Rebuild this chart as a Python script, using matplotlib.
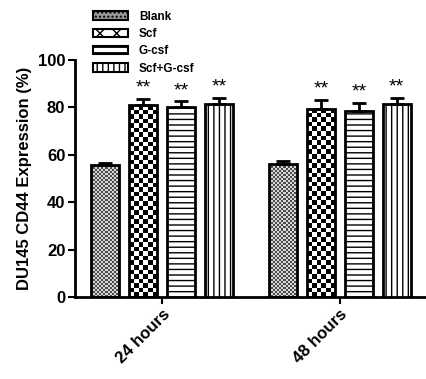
import numpy as np
import matplotlib
matplotlib.use("Agg")
import matplotlib.pyplot as plt
from matplotlib.patches import Patch
from matplotlib.colors import ListedColormap

groups = ["24 hours", "48 hours"]
series = ["Blank", "Scf", "G-csf", "Scf+G-csf"]
values = {
    "Blank": [55.5, 56.0],
    "Scf": [81.0, 79.5],
    "G-csf": [80.0, 78.5],
    "Scf+G-csf": [81.5, 81.5],
}
errors = {
    "Blank": [1.0, 1.2],
    "Scf": [2.5, 3.5],
    "G-csf": [2.5, 3.5],
    "Scf+G-csf": [2.5, 2.5],
}
stars = {"Blank": ["", ""], "Scf": ["**", "**"], "G-csf": ["**", "**"], "Scf+G-csf": ["**", "**"]}
yticks = [0, 20, 40, 60, 80, 100]

plt.rcParams['font.family'] = ['Liberation Sans', 'DejaVu Sans']
plt.rcParams['hatch.linewidth'] = 1.0

W, H = 427, 379
fig = plt.figure(figsize=(W / 100, H / 100), dpi=100)
ax_l, ax_b, ax_r, ax_t = 75, 297, 427, 60
ax = fig.add_axes([ax_l / W, 1 - ax_b / H, (ax_r - ax_l) / W, (ax_b - ax_t) / H])

xlim = (-0.49, 1.49)
ylim = (0, 100)
ppx = (ax_r - ax_l) / (xlim[1] - xlim[0])
ppy = (ax_b - ax_t) / (ylim[1] - ylim[0])

step = 0.213
width = 0.158
x = np.arange(len(groups))
offsets = (np.arange(len(series)) - 1.5) * step

fills = {
    "Blank": ("checker", 2.0, "#4a4a4a", "#d8d8d8"),
    "Scf": ("checker", 4.6, "#000000", "#ffffff"),
    "G-csf": ("hatch", "---", None, None),
    "Scf+G-csf": ("hatch", "|||", None, None),
}

for i, s in enumerate(series):
    kind, p, c1, c2 = fills[s]
    hatch = p if kind == "hatch" else None
    bars = ax.bar(x + offsets[i], values[s], width, facecolor="white" if kind == "hatch" else "none",
                  edgecolor="black", linewidth=2.0, hatch=hatch, zorder=3)
    if kind == "checker":
        for b in bars:
            bx, by = b.get_x(), b.get_y()
            bw, bh = b.get_width(), b.get_height()
            nc = max(1, int(round(bw * ppx / p)))
            nr = max(1, int(round(bh * ppy / p)))
            arr = (np.add.outer(np.arange(nr), np.arange(nc)) % 2).astype(float)
            im = ax.imshow(arr, extent=(bx, bx + bw, by, by + bh), cmap=ListedColormap([c2, c1]),
                           interpolation="nearest", aspect="auto", zorder=2, origin="lower")
            im.set_clip_path(b)
    ax.errorbar(x + offsets[i], values[s], yerr=[np.zeros(len(groups)), errors[s]], fmt="none",
                ecolor="black", elinewidth=2.0, capsize=5, capthick=2.0, zorder=4)
    for j in range(len(groups)):
        if stars[s][j]:
            ax.text(x[j] + offsets[i], values[s][j] + errors[s][j] + 1.0, stars[s][j],
                    ha="center", va="bottom", fontsize=14, zorder=5)

ax.set_xlim(*xlim)
ax.set_ylim(*ylim)
ax.set_yticks(yticks)
ax.set_yticklabels([str(t) for t in yticks], fontsize=12, fontweight="bold")
ax.set_xticks(x)
ax.set_xticklabels(groups, rotation=45, ha="right", rotation_mode="anchor", fontsize=12, fontweight="bold")
ax.tick_params(axis="both", width=1.5, length=5, direction="out", pad=2)
ax.set_ylabel("DU145 CD44 Expression (%)", fontsize=12, fontweight="bold", labelpad=4)
for sp in ["top", "right"]:
    ax.spines[sp].set_visible(False)
for sp in ["left", "bottom"]:
    ax.spines[sp].set_linewidth(2.0)

handles = [
    Patch(facecolor="#9a9a9a", edgecolor="black", linewidth=1.5, hatch="....", label="Blank"),
    Patch(facecolor="white", edgecolor="black", linewidth=1.5, hatch="xx", label="Scf"),
    Patch(facecolor="white", edgecolor="black", linewidth=1.5, hatch="---", label="G-csf"),
    Patch(facecolor="white", edgecolor="black", linewidth=1.5, hatch="|||", label="Scf+G-csf"),
]
leg = fig.legend(handles=handles, loc="upper left", bbox_to_anchor=(88 / W, 1 - 6 / H),
                 frameon=False, prop={"weight": "bold", "size": 8.5}, handlelength=3.0,
                 handleheight=0.7, labelspacing=0.45, handletextpad=0.9, borderaxespad=0)

fig.savefig("out.png", dpi=100)
